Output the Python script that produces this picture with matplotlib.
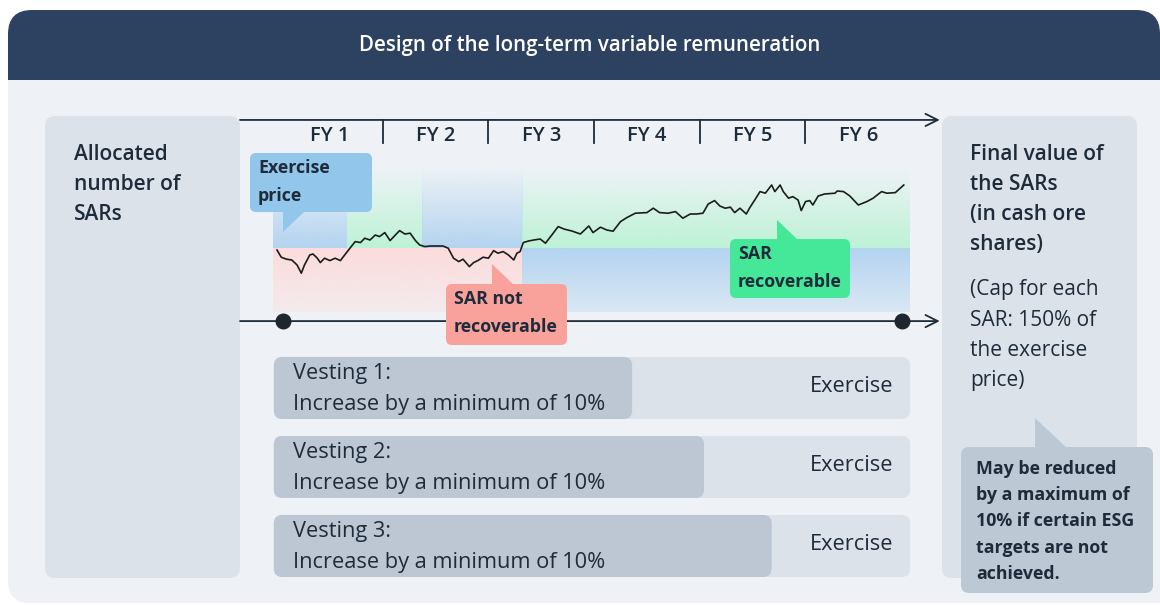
import numpy as np
import matplotlib.pyplot as plt
from matplotlib.patches import FancyBboxPatch, Polygon, Rectangle
from matplotlib.colors import to_rgb

plt.rcParams['font.family'] = ['Open Sans', 'DejaVu Sans']

# share price path: years since allocation, price in % of exercise price
years = [0.00, 0.04, 0.09, 0.14, 0.19, 0.23, 0.26, 0.31, 0.34, 0.38, 0.41, 0.45,
         0.50, 0.55, 0.60, 0.64, 0.69, 0.74, 0.79, 0.83, 0.88, 0.93, 0.97, 1.02,
         1.07, 1.12, 1.16, 1.21, 1.26, 1.31, 1.35, 1.40, 1.45, 1.51, 1.57, 1.62,
         1.67, 1.72, 1.76, 1.82, 1.86, 1.90, 1.95, 2.00, 2.05, 2.09, 2.14, 2.19,
         2.24, 2.27, 2.30, 2.33, 2.38, 2.43, 2.49, 2.54, 2.60, 2.66, 2.72, 2.79,
         2.87, 2.95, 2.99, 3.06, 3.12, 3.18, 3.25, 3.31, 3.39, 3.50, 3.56, 3.62,
         3.70, 3.77, 3.84, 3.91, 3.97, 4.03, 4.08, 4.14, 4.19, 4.24, 4.29, 4.33,
         4.38, 4.44, 4.47, 4.52, 4.57, 4.62, 4.68, 4.71, 4.76, 4.79, 4.84, 4.88,
         4.93, 4.96, 5.00, 5.04, 5.07, 5.12, 5.18, 5.28, 5.30, 5.36, 5.42, 5.50,
         5.58, 5.64, 5.72, 5.77, 5.85, 5.93]
price = [99.0, 95.4, 94.4, 94.0, 91.5, 87.4, 91.5, 96.5, 97.0, 95.0, 92.7, 94.9,
         93.7, 94.9, 93.7, 96.5, 99.9, 103.2, 102.7, 104.9, 104.0, 106.5, 105.7, 107.7,
         103.7, 106.5, 108.7, 107.0, 107.4, 103.7, 101.5, 100.7, 101.0, 101.0, 101.0, 99.9,
         94.9, 93.2, 94.4, 90.7, 92.7, 93.7, 95.4, 94.9, 98.7, 97.4, 98.2, 96.5,
         94.0, 97.4, 98.2, 102.7, 103.5, 104.0, 104.5, 102.4, 106.5, 110.7, 109.4, 108.5,
         107.0, 111.0, 107.7, 110.4, 109.0, 108.4, 113.2, 115.2, 117.4, 117.7, 119.9, 117.7,
         117.4, 118.2, 114.9, 117.0, 117.0, 117.4, 122.0, 123.7, 121.0, 119.9, 120.4, 117.7,
         119.9, 117.0, 119.9, 124.0, 128.2, 127.4, 131.5, 128.2, 131.5, 128.2, 124.9, 125.7,
         124.0, 118.7, 123.2, 123.7, 121.5, 126.0, 127.0, 127.4, 128.5, 128.2, 126.0, 121.5,
         123.2, 124.9, 128.2, 127.4, 127.7, 131.5]
exercise_price = 100

fy_labels = ['FY 1', 'FY 2', 'FY 3', 'FY 4', 'FY 5', 'FY 6']
term_points = [0.06, 5.91]

# shaded zones above and below the exercise price
above_edges = [-0.04, 0.66, 1.37, 2.32, 5.99]
above_kind = ['blue', 'green', 'blue', 'green']
below_edges = [-0.04, 2.32, 5.99]
below_kind = ['red', 'blue']

vesting_labels = ['Vesting 1:', 'Vesting 2:', 'Vesting 3:']
vesting_condition = 'Increase by a minimum of 10%'
vesting_end = [3.36, 4.04, 4.68]
term_start, term_end = -0.03, 5.99

zone_colors = {'blue': '#b3d4f0', 'green': '#bdf3d6', 'red': '#fddcdc'}
ink = '#1e2b3a'
panel = '#dce2e9'
bg = '#eef2f6'

fig = plt.figure(figsize=(11.6, 6.05), dpi=100)
fig.patch.set_facecolor('white')

# ---- background layer in pixel coordinates
ax_bg = fig.add_axes([0, 0, 1, 1])
ax_bg.set_xlim(0, 1160)
ax_bg.set_ylim(605, 0)
ax_bg.axis('off')


def rbox(ax, x, y, w, h, color, r=10, **kw):
    p = FancyBboxPatch((x, y), w, h, boxstyle=f'round,pad=0,rounding_size={r}',
                       fc=color, ec='none', **kw)
    ax.add_patch(p)
    return p


rbox(ax_bg, 8, 40, 1200, 563, bg, r=22)
rbox(ax_bg, 8, 10, 1152, 120, '#2d4161', r=24)
ax_bg.add_patch(Rectangle((8, 80), 1152, 100, fc=bg, ec='none'))
ax_bg.text(590, 46, 'Design of the long-term variable remuneration', color='white',
           fontsize=14.8, fontweight='semibold', ha='center', va='center')

rbox(ax_bg, 45, 116, 195, 462, panel)
for i, s in enumerate(['Allocated', 'number of', 'SARs']):
    ax_bg.text(74, 154 + 30.5 * i, s, fontsize=15, color=ink, va='center', fontweight='semibold')

rbox(ax_bg, 942, 116, 195, 462, panel)
right_lines = ['Final value of', 'the SARs', '(in cash ore', 'shares)']
cap_lines = ['(Cap for each', 'SAR: 150% of', 'the exercise', 'price)']
for i, s in enumerate(right_lines):
    ax_bg.text(970, 154 + 30.3 * i, s, fontsize=15, color=ink, va='center', fontweight='semibold')
for i, s in enumerate(cap_lines):
    ax_bg.text(970, 290 + 30.3 * i, s, fontsize=15, color=ink, va='center')

rbox(ax_bg, 961, 447, 192, 146, '#bcc8d4', r=8)
ax_bg.add_patch(Polygon([(1035, 418), (1035, 448), (1067, 448)], fc='#bcc8d4', ec='none'))
esg_lines = ['May be reduced', 'by a maximum of', '10% if certain ESG', 'targets are not', 'achieved.']
for i, s in enumerate(esg_lines):
    ax_bg.text(976, 469 + 26.2 * i, s, fontsize=12.8, color=ink, va='center', fontweight='bold')

# ---- price chart: x in years, y in % of exercise price
x_lim = (-0.350, 6.320)
ax = fig.add_axes([240 / 1160, (605 - 350) / 605, 705 / 1160, 245 / 605])
ax.axis('off')


def fade(ax, x0, x1, y_bottom, y_top, color, a_bottom, a_top):
    rgba = np.zeros((100, 1, 4))
    rgba[:, 0, :3] = to_rgb(color)
    rgba[:, 0, 3] = np.linspace(a_bottom, a_top, 100)
    ax.imshow(rgba, extent=(x0, x1, y_bottom, y_top), origin='lower',
              aspect='auto', interpolation='bilinear', zorder=1)


top_fade, bottom_fade = 139, 68
for k, kind in enumerate(above_kind):
    fade(ax, above_edges[k], above_edges[k + 1], exercise_price, top_fade,
         zone_colors[kind], 1.0, 0.05)
for k, kind in enumerate(below_kind):
    fade(ax, below_edges[k], below_edges[k + 1], bottom_fade, exercise_price,
         zone_colors[kind], 0.35, 1.0)

ax.plot(years, price, color='#1c1c1c', lw=1.2, zorder=3)

tx = ax.get_xaxis_transform()
for yy in (0.939, 0.118):
    ax.annotate('', xy=(6.27, yy), xytext=(x_lim[0], yy), xycoords=tx, textcoords=tx,
                arrowprops=dict(arrowstyle='->', color=ink, lw=1.3, mutation_scale=22,
                                shrinkA=0, shrinkB=0))
for k in range(1, len(fy_labels)):
    ax.plot([k, k], [0.939, 0.845], transform=tx, color=ink, lw=1.3)
for k, lab in enumerate(fy_labels):
    ax.text(k + 0.5, 0.873, lab, transform=tx, ha='center', va='center',
            fontsize=14.5, color=ink, fontweight='semibold')
ax.scatter(term_points, [0.118] * len(term_points), transform=tx, s=110,
           color='#1e2630', zorder=4)
ax.set_xlim(*x_lim)
ax.set_ylim(49, 171.5)

# ---- vesting bars: x in years, one row per tranche
ax_v = fig.add_axes([240 / 1160, (605 - 585) / 605, 705 / 1160, 235 / 605])
ax_v.axis('off')
ax_v.set_xlim(*x_lim)
ax_v.set_ylim(2.494, -0.481)
bar_h = 0.785
for i, lab in enumerate(vesting_labels):
    ax_v.add_patch(FancyBboxPatch((term_start, i - bar_h / 2), term_end - term_start, bar_h,
                                  boxstyle='round,pad=0,rounding_size=0.08',
                                  mutation_aspect=1.338, fc=panel, ec='none'))
    ax_v.add_patch(FancyBboxPatch((term_start, i - bar_h / 2), vesting_end[i] - term_start, bar_h,
                                  boxstyle='round,pad=0,rounding_size=0.08',
                                  mutation_aspect=1.338, fc='#bcc7d3', ec='none'))
    ax_v.text(0.15, i - 0.18, lab, fontsize=15.7, color=ink, va='center')
    ax_v.text(0.15, i + 0.215, vesting_condition, fontsize=15.7, color=ink, va='center')
    ax_v.text(5.83, i - 0.025, 'Exercise', fontsize=15.7, color=ink, va='center', ha='right')

# ---- callouts on top, pixel coordinates
ax_c = fig.add_axes([0, 0, 1, 1])
ax_c.set_xlim(0, 1160)
ax_c.set_ylim(605, 0)
ax_c.axis('off')


def callout(x, y, w, h, color, tri, lines):
    rbox(ax_c, x, y, w, h, color, r=6)
    ax_c.add_patch(Polygon(tri, fc=color, ec='none'))
    for i, s in enumerate(lines):
        ax_c.text(x + 8, y + 15 + 28 * i, s, fontsize=12.8, color=ink,
                  va='center', fontweight='bold')


callout(250, 153, 122, 59, '#92c6ea', [(283, 211), (283, 232), (305, 211)],
        ['Exercise', 'price'])
callout(446, 284, 121, 61, '#f9a29c', [(492, 285), (492, 264), (514, 285)],
        ['SAR not', 'recoverable'])
callout(730, 239, 120, 59, '#45e899', [(777, 240), (777, 220), (798, 240)],
        ['SAR', 'recoverable'])

fig.savefig('out.png', dpi=100)
